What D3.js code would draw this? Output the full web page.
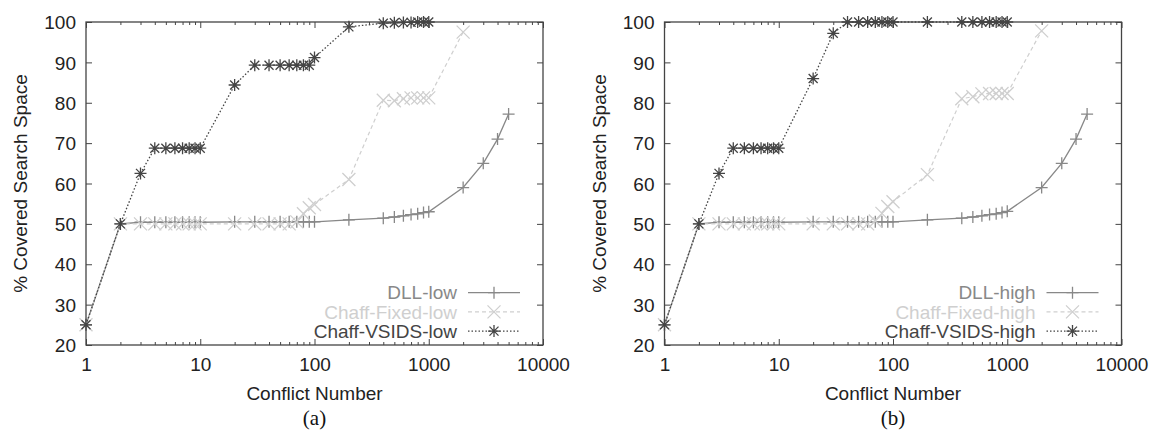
<!DOCTYPE html>
<html>
<head>
<meta charset="utf-8">
<script src="https://cdn.jsdelivr.net/npm/d3@7"></script>
<style>
  body { margin: 0; background: #fff; }
  svg { display: block; font-family: "Liberation Sans", Arial, sans-serif; }
</style>
</head>
<body>
<script>
// x positions (conflict number) for each series
var dllX = [1,2,3,4,5,6,7,8,9,10,20,30,40,50,60,70,80,90,100,200,400,500,600,700,800,900,1000,2000,3000,4000,5000];
var fixedX = [1,2,3,4,5,6,7,8,9,10,20,30,40,50,60,70,80,90,100,200,400,500,600,700,800,900,1000,2000];
var vsidsX = [1,2,3,4,5,6,7,8,9,10,20,30,40,50,60,70,80,90,100,200,400,500,600,700,800,900,1000];

// % covered search space, panel (a)
var dllLow = [25,50,50.4,50.4,50.4,50.4,50.4,50.4,50.4,50.4,50.5,50.5,50.5,50.5,50.5,50.5,50.5,50.5,50.5,51,51.4,51.7,52,52.3,52.5,52.8,53,59,65,71,77.2];
var fixedLow = [25,50,50,50,50,50,50,50,50,50,50,50,50,50,50,50.5,52.5,54,54.8,61,80.6,80.5,81,81.2,81.2,81.2,81.2,97.5];
var vsidsLow = [25,50,62.5,68.75,68.75,68.75,68.75,68.75,68.75,68.75,84.4,89.3,89.3,89.3,89.3,89.3,89.3,89.3,91.2,98.8,99.7,99.8,99.9,99.9,100,100,100];

// % covered search space, panel (b)
var dllHigh = [25,50,50.4,50.4,50.4,50.4,50.4,50.4,50.4,50.4,50.5,50.5,50.5,50.5,50.5,50.5,50.5,50.5,50.5,51,51.4,51.7,52,52.3,52.5,52.8,53.1,59,65,71,77.2];
var fixedHigh = [25,50,50,50,50,50,50,50,50,50,50,50,50,50,50,50.7,52.6,54.3,55.5,62.2,81,81.5,82.2,82.3,82.3,82.3,82.3,97.8];
var vsidsHigh = [25,50,62.5,68.75,68.75,68.75,68.75,68.75,68.75,68.75,86,97.2,100,100,100,100,100,100,100,100,100,100,100,100,100,100,100];

var yTicks = [20,30,40,50,60,70,80,90,100];
var xTicks = [1,10,100,1000,10000];

var W = 1149, H = 436;
var svg = d3.select("body").append("svg").attr("width", W).attr("height", H);

var styles = {
    dll:   {color: "#888", dash: null,    width: 1.3, marker: "plus"},
    fixed: {color: "#cfcfcf", dash: "4,3", width: 1.2, marker: "cross"},
    vsids: {color: "#444", dash: "1.5,2", width: 1.3, marker: "star"}
};

function markerPath(type, s){
    var p = "";
    if (type == "plus" || type == "star") p += "M" + (-s) + ",0H" + s + "M0," + (-s) + "V" + s;
    if (type == "cross" || type == "star") {
        var t = type == "star" ? s * 0.75 : s;
        p += "M" + (-t) + "," + (-t) + "L" + t + "," + t + "M" + (-t) + "," + t + "L" + t + "," + (-t);
    }
    return p;
}

function drawPanel(left, series, label, caption){
    var top = 22, bottom = 345, right = left + 457;
    var x = d3.scaleLog().domain([1, 10000]).range([left, right]);
    var y = d3.scaleLinear().domain([20, 100]).range([bottom, top]);
    var g = svg.append("g");

    // minor ticks on log axis
    var minor = [];
    [1,10,100,1000].forEach(function(d){ for (var k = 2; k <= 9; k++) minor.push(d * k); });

    g.append("g").attr("transform", "translate(0," + bottom + ")")
        .call(d3.axisBottom(x).tickValues(xTicks).tickFormat(d3.format("d")).tickSizeInner(-6).tickSizeOuter(0).tickPadding(12.5));
    g.append("g").attr("transform", "translate(0," + bottom + ")")
        .call(d3.axisBottom(x).tickValues(minor).tickFormat("").tickSizeInner(-3).tickSizeOuter(0));
    g.append("g").attr("transform", "translate(0," + top + ")")
        .call(d3.axisTop(x).tickValues(xTicks).tickFormat("").tickSizeInner(-6).tickSizeOuter(0));
    g.append("g").attr("transform", "translate(0," + top + ")")
        .call(d3.axisTop(x).tickValues(minor).tickFormat("").tickSizeInner(-3).tickSizeOuter(0));
    var axL = g.append("g").attr("transform", "translate(" + left + ",0)")
        .call(d3.axisLeft(y).tickValues(yTicks).tickSizeInner(-6).tickSizeOuter(0).tickPadding(10));
    g.append("g").attr("transform", "translate(" + right + ",0)")
        .call(d3.axisRight(y).tickValues(yTicks).tickFormat("").tickSizeInner(-6).tickSizeOuter(0));

    g.selectAll(".domain").remove();
    g.selectAll(".tick line").attr("stroke", "#444").attr("stroke-width", 1);
    g.selectAll(".tick text").attr("font-size", "19px").attr("fill", "#222")
        .attr("font-family", "'Liberation Sans', Arial, sans-serif");
    axL.selectAll(".tick text").attr("dy", "0.35em");

    g.append("rect").attr("x", left).attr("y", top).attr("width", right - left).attr("height", bottom - top)
        .attr("fill", "none").attr("stroke", "#444").attr("stroke-width", 1.3);

    // series
    var line = d3.line().x(function(d){ return x(d[0]); }).y(function(d){ return y(d[1]); });
    series.forEach(function(s){
        var st = styles[s.key];
        var pts = s.xs.map(function(v, i){ return [v, s.ys[i]]; });
        g.append("path").datum(pts).attr("d", line).attr("fill", "none")
            .attr("stroke", st.color).attr("stroke-width", st.width)
            .attr("stroke-dasharray", st.dash);
        g.selectAll(null).data(pts).enter().append("path")
            .attr("transform", function(d){ return "translate(" + x(d[0]) + "," + y(d[1]) + ")"; })
            .attr("d", markerPath(st.marker, st.marker == "cross" ? 6.5 : 6))
            .attr("fill", "none").attr("stroke", st.color).attr("stroke-width", 1.3);
    });

    // legend
    series.forEach(function(s, i){
        var st = styles[s.key];
        var cy = 292.7 + i * 19.2;
        g.append("text").attr("x", right - 86).attr("y", cy).attr("dy", "0.35em")
            .attr("text-anchor", "end").attr("font-size", "19px").attr("fill", st.color).text(s.name);
        g.append("line").attr("x1", right - 75).attr("x2", right - 23).attr("y1", cy).attr("y2", cy)
            .attr("stroke", st.color).attr("stroke-width", st.width).attr("stroke-dasharray", st.dash);
        g.append("path").attr("transform", "translate(" + (right - 49) + "," + cy + ")")
            .attr("d", markerPath(st.marker, st.marker == "cross" ? 6.5 : 6))
            .attr("fill", "none").attr("stroke", st.color).attr("stroke-width", 1.3);
    });

    // axis titles
    g.append("text").attr("x", (left + right) / 2).attr("y", 400).attr("text-anchor", "middle")
        .attr("font-size", "19px").attr("fill", "#222").text("Conflict Number");
    g.append("text").attr("transform", "translate(" + (left - 59) + "," + ((top + bottom) / 2) + ") rotate(-90)")
        .attr("text-anchor", "middle").attr("font-size", "19px").attr("fill", "#222").text(label);
    g.append("text").attr("x", (left + right) / 2).attr("y", 425).attr("text-anchor", "middle")
        .style("font-family", "'Liberation Serif', 'Times New Roman', serif").attr("font-size", "21px")
        .attr("fill", "#111").text(caption);
}

drawPanel(86, [
    {key: "dll", name: "DLL-low", xs: dllX, ys: dllLow},
    {key: "fixed", name: "Chaff-Fixed-low", xs: fixedX, ys: fixedLow},
    {key: "vsids", name: "Chaff-VSIDS-low", xs: vsidsX, ys: vsidsLow}
], "% Covered Search Space", "(a)");

drawPanel(664.5, [
    {key: "dll", name: "DLL-high", xs: dllX, ys: dllHigh},
    {key: "fixed", name: "Chaff-Fixed-high", xs: fixedX, ys: fixedHigh},
    {key: "vsids", name: "Chaff-VSIDS-high", xs: vsidsX, ys: vsidsHigh}
], "% Covered Search Space", "(b)");
</script>
</body>
</html>
